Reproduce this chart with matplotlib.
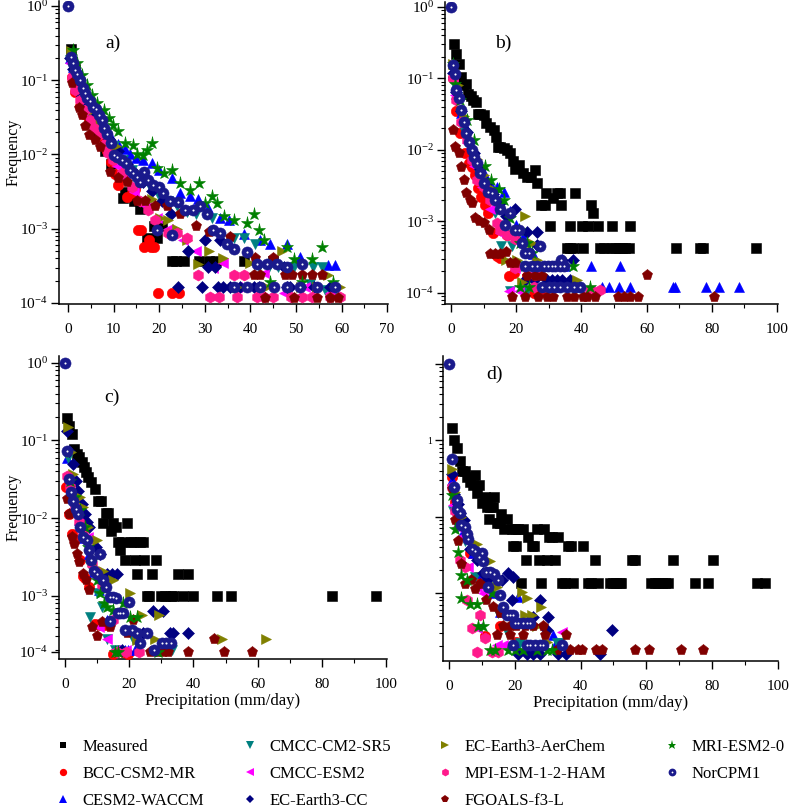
import matplotlib
matplotlib.use("Agg")
import matplotlib.pyplot as plt
from matplotlib.lines import Line2D
from matplotlib.ticker import (FixedLocator, FixedFormatter, LogLocator,
                               MultipleLocator, NullFormatter)

plt.rcParams['font.family'] = ['Liberation Serif', 'DejaVu Serif']
plt.rcParams['mathtext.fontset'] = 'custom'
plt.rcParams['mathtext.rm'] = 'Liberation Serif'
plt.rcParams['mathtext.it'] = 'Liberation Serif:italic'

# ---------------- data: precipitation (mm/day) vs frequency ----------------
# panel a
a_meas_x = [0.7, 1.5, 2.5, 3.5, 5, 6.5, 8, 9.5, 11.4, 12, 12.5, 13.2, 14.5, 15.8, 17.3, 18.9, 19.5, 20.5, 22.8, 23.6, 25.5, 28.8, 30.9, 32.4, 38.7, 45]
a_meas_f = [0.26, 0.14, 0.08, 0.05, 0.03, 0.018, 0.011, 0.0075, 0.005, 0.0026, 0.003, 0.0031, 0.0024, 0.00186, 0.00074, 0.0011, 0.00074, 0.0011, 0.00037, 0.00037, 0.00037, 0.00037, 0.00037, 0.00037, 0.00037, 0.00037]
a_bcc_x = [0.8, 1.5, 2.5, 3.5, 4.5, 5.5, 6.3, 7.5, 8.5, 9.5, 10.3, 11, 11.8, 12.9, 14, 14.7, 15.4, 16.1, 16.7, 17.8, 18.1, 18.9, 19.7, 22.7, 24.4]
a_bcc_f = [0.112, 0.07, 0.045, 0.035, 0.03, 0.028, 0.025, 0.017, 0.011, 0.008, 0.0055, 0.0039, 0.005, 0.0027, 0.003, 0.0034, 0.00096, 0.00096, 0.00057, 0.0007, 0.00057, 0.00057, 0.000138, 0.000138, 0.000138]
a_cesm_x = [0.5, 1, 1.5, 2, 3, 4, 5, 6, 7, 8, 9.5, 11, 12.5, 13.6, 15, 16.5, 18.4, 20, 22.8, 24.6, 26.8, 28.5, 30.8, 33.4, 35.2, 38.5, 42.1, 44.3, 48, 50.9, 57.1, 58.6]
a_cesm_f = [0.2, 0.15, 0.12, 0.095, 0.068, 0.052, 0.042, 0.034, 0.028, 0.022, 0.017, 0.014, 0.012, 0.0103, 0.009, 0.0085, 0.0076, 0.0062, 0.0048, 0.003, 0.0028, 0.0025, 0.0019, 0.0014, 0.0013, 0.00086, 0.0007, 0.00063, 0.00063, 0.00042, 0.00032, 0.00032]
a_sr5_x = [0.5, 1, 2, 3, 4.5, 6, 8, 10, 12, 14, 16, 18, 20, 22, 24, 26, 28, 31.5, 36.3, 38.5, 41, 41.8, 44, 46, 49.5, 53.1, 53.8, 55.7, 56.4, 58.5]
a_sr5_f = [0.19, 0.14, 0.09, 0.062, 0.042, 0.03, 0.02, 0.013, 0.0085, 0.0062, 0.0048, 0.0036, 0.0028, 0.0024, 0.002, 0.0017, 0.0016, 0.0014, 0.00074, 0.00074, 0.00063, 0.00031, 0.00031, 0.00031, 0.00031, 0.00018, 0.00031, 0.00031, 0.00015, 0.00015]
a_esm2_x = [0.5, 1, 2, 3, 4, 5.5, 7, 8.5, 10.7, 12.5, 14.5, 17, 19.5, 22, 25.3, 28, 31.9, 34, 37, 40.7, 42.9, 47.3, 52, 57.5]
a_esm2_f = [0.17, 0.12, 0.075, 0.05, 0.037, 0.026, 0.019, 0.0157, 0.0069, 0.0048, 0.0031, 0.002, 0.0014, 0.001, 0.0007, 0.0005, 0.0003, 0.00035, 0.000166, 0.00035, 0.00025, 0.000135, 0.000166, 0.000135]
a_cc_x = [0.5, 1, 2, 3, 4, 5.5, 7, 9, 11, 13, 15, 16.5, 18.4, 20.5, 22.5, 24.2, 26.4, 29.3, 30, 30.8, 32.3, 33, 33.4, 34, 35.5, 37.8, 40.7, 42, 47.3, 48, 48.7, 50.9, 54, 57.5]
a_cc_f = [0.2, 0.14, 0.09, 0.062, 0.046, 0.032, 0.024, 0.016, 0.011, 0.0075, 0.0055, 0.0042, 0.0032, 0.0024, 0.0016, 0.000166, 0.0005, 0.000166, 0.0007, 0.00031, 0.00031, 0.000166, 0.0007, 0.000166, 0.000166, 0.000166, 0.000166, 0.000166, 0.00031, 0.000166, 0.000166, 0.000166, 0.000166, 0.000166]
a_aer_x = [0.7, 1.5, 2.5, 4, 5.5, 7, 8.5, 10.5, 12.5, 14.5, 16.5, 18.5, 20.2, 22, 24, 26, 28.6, 31, 34, 37, 40, 43.6, 47, 51, 54.6, 57, 59.7]
a_aer_f = [0.25, 0.15, 0.1, 0.06, 0.04, 0.028, 0.02, 0.013, 0.0085, 0.006, 0.0042, 0.0025, 0.0014, 0.0013, 0.001, 0.0007, 0.00034, 0.0005, 0.0004, 0.000166, 0.00035, 0.000166, 0.0005, 0.000166, 0.000166, 0.00024, 0.000166]
a_mpi_x = [0.8, 1.5, 2.6, 3.7, 4.8, 5.6, 7, 8.1, 8.8, 9.9, 11.8, 14, 15.8, 17.6, 19.1, 22, 23.8, 26, 28.6, 31.2, 33.1, 36.3, 37, 38.5, 41.4, 42.9, 45, 49, 51.3, 53.5, 57.5, 59.7]
a_mpi_f = [0.106, 0.074, 0.054, 0.04, 0.029, 0.0225, 0.019, 0.014, 0.0104, 0.0084, 0.0056, 0.0037, 0.0024, 0.0018, 0.0013, 0.00088, 0.00088, 0.00074, 0.00024, 0.000122, 0.000122, 0.00024, 0.000122, 0.00024, 0.000122, 0.000122, 0.000122, 0.000122, 0.000122, 0.000122, 0.000122, 0.000122]
a_fg_x = [0.8, 2.3, 3, 3.7, 4.5, 5.9, 7, 9.2, 11, 12.9, 15.1, 16.9, 19.1, 21.7, 24.6, 28, 31, 35.6, 40.7, 41, 42.1, 43.2, 45, 47.6, 49.1, 49.5, 51.3, 53.5, 54.6, 55.7, 57.5, 59.3]
a_fg_f = [0.091, 0.042, 0.034, 0.024, 0.0183, 0.0157, 0.0127, 0.0059, 0.0048, 0.0043, 0.0024, 0.0024, 0.002, 0.002, 0.0016, 0.0011, 0.0009, 0.00078, 0.00024, 0.0004, 0.00024, 0.000116, 0.0004, 0.00024, 0.00024, 0.000116, 0.00024, 0.00024, 0.000116, 0.00024, 0.000116, 0.000116]
a_mri_x = [1.0, 1.9, 3, 4.1, 5.2, 6.3, 7.8, 8.9, 9.9, 11, 12.5, 14.2, 15.1, 16.5, 17.3, 18.4, 19.5, 21, 22.8, 24.6, 26.8, 28.8, 30.1, 31.5, 32.6, 34.1, 36.3, 39.2, 40.7, 41.8, 42.9, 44.3, 48, 49.5, 51.3, 53.5, 55.7, 58.2]
a_mri_f = [0.255, 0.17, 0.117, 0.086, 0.063, 0.049, 0.04, 0.031, 0.025, 0.021, 0.0141, 0.0135, 0.0103, 0.0098, 0.0115, 0.0141, 0.0065, 0.0056, 0.0062, 0.0041, 0.0033, 0.0041, 0.0022, 0.0028, 0.0022, 0.0015, 0.0013, 0.0012, 0.0016, 0.00096, 0.0007, 0.00019, 0.00057, 0.00039, 0.00019, 0.00039, 0.00057, 0.00019]
a_nor_x = [0, 0.66, 1.0, 1.5, 2.0, 2.6, 3.2, 3.7, 4.2, 4.8, 5.4, 6.1, 6.7, 7.4, 7.9, 8.5, 9.4, 10.1, 10.8, 11.8, 12.7, 13.5, 14.3, 15.1, 15.8, 16.7, 17.6, 18.7, 19.5, 20, 20.9, 22.4, 22.8, 24.2, 25.7, 27.5, 29, 30.4, 31.9, 33.4, 34.8, 36.3, 36.3, 39.2, 39.2, 41.4, 42.1, 43.6, 45.1, 45.8, 48, 48, 50.9, 51.3, 54.6, 58.6]
a_nor_f = [1.0, 0.208, 0.169, 0.137, 0.121, 0.1, 0.078, 0.067, 0.057, 0.052, 0.044, 0.041, 0.034, 0.029, 0.0225, 0.019, 0.0141, 0.0098, 0.0093, 0.0084, 0.0078, 0.0062, 0.0056, 0.005, 0.0043, 0.0059, 0.0045, 0.0039, 0.00096, 0.0036, 0.003, 0.0024, 0.00083, 0.0023, 0.0018, 0.0018, 0.002, 0.0016, 0.00096, 0.00088, 0.00063, 0.00054, 0.000166, 0.00049, 0.000166, 0.00034, 0.000166, 0.00033, 0.000166, 0.00034, 0.00031, 0.000166, 0.000166, 0.00033, 0.000166, 0.000166]

# panel b
b_meas_x = [0.8, 1.5, 2.4, 3.1, 3.7, 4.7, 5.2, 6.1, 6.9, 7.7, 8.2, 9, 10, 10.8, 12.1, 13.1, 13.8, 14.3, 15.1, 16.2, 17.2, 18.2, 19, 19.7, 20.8, 22.1, 23.3, 24.6, 25.7, 26.4, 27.7, 28.7, 29.2, 30.5, 31.3, 32.5, 33.3, 33.8, 35.6, 36.4, 37.4, 38.1, 36.6, 40.2, 40.5, 42, 42.9, 43.6, 45, 45.8, 46.8, 49.1, 49.5, 50.4, 51.4, 52.5, 53.5, 54.5, 54.8, 69.1, 76.3, 77.3, 93.4]
b_meas_f = [0.308, 0.22, 0.16, 0.105, 0.08, 0.085, 0.06, 0.056, 0.05, 0.047, 0.032, 0.032, 0.031, 0.0236, 0.021, 0.019, 0.0154, 0.011, 0.011, 0.0105, 0.0101, 0.009, 0.0069, 0.0055, 0.0062, 0.0047, 0.0042, 0.0042, 0.0052, 0.0034, 0.0017, 0.0017, 0.0025, 0.00085, 0.0021, 0.0025, 0.0025, 0.0017, 0.000425, 0.000425, 0.000425, 0.0025, 0.00085, 0.00085, 0.000425, 0.00085, 0.0017, 0.0013, 0.00085, 0.000425, 0.000425, 0.000425, 0.00085, 0.000425, 0.000425, 0.000425, 0.000425, 0.000425, 0.00085, 0.000425, 0.000425, 0.000425, 0.000425]
b_bcc_x = [0.5, 1.5, 2.9, 4.4, 5.4, 6.4, 7.5, 8.2, 9.3, 10.5, 11.2, 12.9, 14.1, 15.1, 17.2, 17.7, 19.2, 23.3, 25.4, 27.4]
b_bcc_f = [0.1, 0.035, 0.0171, 0.009, 0.0065, 0.00585, 0.0045, 0.0029, 0.0022, 0.0017, 0.0013, 0.00069, 0.00033, 0.00031, 0.00065, 0.00017, 0.00019, 0.00017, 0.0001, 0.0001]
b_cesm_x = [0.5, 1.5, 3, 4.5, 6, 8, 10, 12, 14, 16.2, 18, 20, 22, 25, 28, 31.3, 35, 39.2, 43, 46.3, 48.4, 51.4, 51.9, 54.8, 68.1, 68.8, 78.3, 82.1, 88.2]
b_cesm_f = [0.12, 0.06, 0.033, 0.02, 0.012, 0.0075, 0.0048, 0.0035, 0.003, 0.0026, 0.0014, 0.0009, 0.0006, 0.00035, 0.00024, 0.00012, 0.00024, 0.00012, 0.00024, 0.00012, 0.00012, 0.00012, 0.00024, 0.00012, 0.00012, 0.00012, 0.00012, 0.00012, 0.00012]
b_sr5_x = [0.5, 1.8, 3.4, 5.4, 8, 11, 13.6, 15.3, 18.7, 21.5, 18.2, 23.3, 37.6]
b_sr5_f = [0.09, 0.055, 0.021, 0.0124, 0.0052, 0.0028, 0.0013, 0.00045, 0.00045, 0.00024, 0.000105, 0.000105, 0.000105]
b_esm2_x = [0.5, 1.3, 3.4, 4.9, 7, 9.5, 12.1, 15.1, 17.7, 19.7, 20.8, 42.7]
b_esm2_f = [0.1, 0.058, 0.026, 0.0124, 0.0059, 0.003, 0.0015, 0.00069, 0.000105, 0.00022, 0.000105, 0.000105]
b_cc_x = [0.5, 1.5, 3, 5, 7, 9, 11, 13, 15.1, 17, 19.7, 23.3, 26.4, 26.4, 34, 37.4, 22.8, 25.4, 29.4, 31, 32.5, 34, 36.6]
b_cc_f = [0.12, 0.065, 0.035, 0.018, 0.009, 0.0055, 0.0035, 0.0024, 0.0018, 0.0012, 0.0015, 0.00072, 0.00072, 0.00047, 0.00029, 0.00029, 0.00015, 0.00015, 0.00015, 0.00015, 0.00015, 0.00015, 0.00015]
b_aer_x = [0.7, 2, 4, 6, 8, 10, 13, 17, 20.2, 22.8, 24.8, 26.4, 21.8, 38.7]
b_aer_f = [0.16, 0.08, 0.03, 0.014, 0.0075, 0.0045, 0.0028, 0.00029, 0.00029, 0.0012, 0.0005, 0.00029, 0.00014, 0.00015]
b_mpi_x = [0.5, 1.5, 3, 4.9, 6.4, 8, 10, 12.1, 14.1, 15.1, 17.2, 19.7, 19.7, 25.9, 25.4, 42.7, 45.8]
b_mpi_f = [0.1, 0.05, 0.025, 0.0138, 0.0073, 0.0038, 0.003, 0.002, 0.00095, 0.00077, 0.00065, 0.00056, 0.00022, 0.00018, 0.00012, 0.00011, 0.00011]
b_fg_x = [0.6, 1.3, 2.4, 3.1, 3.9, 4.7, 5.7, 6.4, 7.5, 8.5, 10, 11.6, 12.1, 13.6, 15.1, 17, 18.2, 19.7, 23.3, 25.9, 27.9, 18.7, 22.8, 26.6, 29.4, 31.3, 35.6, 37.6, 40.5, 41.7, 44.3, 51.1, 53, 55, 57.3, 60.1, 80.6]
b_fg_f = [0.019, 0.011, 0.009, 0.0058, 0.0038, 0.0025, 0.002, 0.0018, 0.0011, 0.001, 0.00094, 0.00077, 0.00035, 0.00035, 0.00035, 0.00037, 0.00026, 0.00026, 0.00017, 0.00017, 0.00017, 0.000088, 0.000088, 0.000088, 0.000088, 0.000088, 0.000088, 0.000088, 0.000088, 0.000088, 0.000088, 0.000088, 0.000088, 0.000088, 0.000088, 0.00018, 0.000088]
b_mri_x = [0.6, 1.3, 2.9, 4.9, 7, 10.5, 12.3, 14.6, 16.2, 18.2, 20.8, 21.3, 23.3, 24.8, 37.4, 21.3, 23.8, 42.7]
b_mri_f = [0.16, 0.085, 0.05, 0.026, 0.0138, 0.0059, 0.0038, 0.0028, 0.002, 0.0011, 0.00077, 0.0005, 0.0005, 0.00036, 0.00024, 0.00012, 0.00012, 0.00012]
b_nor_x = [0, 0.6, 1.1, 1.6, 2.4, 3.0, 3.9, 4.7, 5.4, 6.4, 7.2, 8, 9, 10.2, 11.3, 12.6, 13.6, 15.1, 16.7, 18.2, 19.7, 21, 21.9, 22.8, 23.8, 22.6, 24.8, 26.4, 28.4, 29.8, 31, 32, 33.3, 34.6, 27.2, 27.9, 30, 31.7, 33.3, 35.6, 37.6, 39.7, 33.7]
b_nor_f = [1.0, 0.154, 0.117, 0.069, 0.053, 0.036, 0.025, 0.017, 0.013, 0.01, 0.0081, 0.0065, 0.0047, 0.0034, 0.0026, 0.0025, 0.002, 0.0015, 0.0009, 0.0013, 0.00077, 0.00077, 0.0005, 0.00036, 0.00036, 0.00024, 0.00024, 0.00024, 0.00024, 0.00024, 0.00024, 0.00024, 0.00024, 0.00024, 0.00045, 0.00012, 0.00012, 0.00012, 0.00012, 0.00012, 0.00012, 0.00012, 0.00029]

# panel c
c_meas_x = [0.7, 1.2, 2.1, 2.8, 3.6, 4.5, 5.2, 5.9, 6.5, 7.3, 8, 9.3, 10.4, 11.2, 11.7, 12.8, 13.5, 14.2, 15.1, 15.9, 16.6, 17.1, 17.9, 18.7, 19.4, 20.5, 21.3, 21.8, 22.3, 23.4, 24.2, 24.6, 25.4, 26.3, 27, 28.3, 29.9, 31, 33, 33.7, 35.3, 36.7, 38.4, 39.8, 47.2, 51.6, 83.1, 96.8]
c_meas_f = [0.197, 0.154, 0.121, 0.077, 0.067, 0.0605, 0.052, 0.045, 0.039, 0.034, 0.029, 0.0238, 0.0165, 0.0165, 0.00863, 0.0116, 0.0116, 0.0068, 0.00863, 0.0077, 0.00488, 0.00385, 0.00488, 0.00292, 0.00863, 0.00488, 0.00488, 0.00292, 0.00193, 0.00488, 0.00488, 0.00292, 0.00099, 0.00099, 0.00193, 0.00292, 0.00099, 0.00099, 0.00099, 0.00099, 0.00193, 0.00099, 0.00193, 0.00099, 0.00099, 0.00099, 0.00099, 0.00099]
c_bcc_x = [0.3, 1.2, 2.1, 3.1, 4.7, 5.5, 6.2, 7.6, 9.3, 10.9, 12.5, 15.1, 18.2, 19.7]
c_bcc_f = [0.025, 0.0114, 0.0063, 0.0052, 0.0029, 0.0018, 0.0017, 0.0013, 0.00044, 0.00042, 0.00042, 0.00018, 0.00019, 0.00018]
c_cesm_x = [0.5, 1.5, 3, 4.5, 6, 7.5, 9, 10.5, 13, 18.7, 19.7, 21.8, 27.5]
c_cesm_f = [0.06, 0.03, 0.017, 0.0095, 0.0055, 0.0035, 0.002, 0.0012, 0.00049, 0.0002, 0.0002, 0.0002, 0.0002]
c_sr5_x = [1, 2.1, 3.6, 5.7, 7.8, 9.9, 11.4, 7.8, 13, 15.6, 21.3, 33.2]
c_sr5_f = [0.06, 0.025, 0.014, 0.0077, 0.0024, 0.0011, 0.00072, 0.00054, 0.00028, 0.0002, 0.00028, 0.0002]
c_esm2_x = [1.2, 3.1, 4.7, 7.3, 9.3, 10.7, 13, 15.6, 19]
c_esm2_f = [0.03, 0.0186, 0.0103, 0.0057, 0.00193, 0.0004, 0.00028, 0.0002, 0.0002]
c_cc_x = [0.5, 1.3, 2.6, 3.4, 4.2, 5.2, 6.2, 7, 7.6, 9.7, 10.9, 13, 14.5, 16.1, 17.7, 24.4, 27.5, 30.6, 32.7, 33.7, 38.4]
c_cc_f = [0.133, 0.074, 0.05, 0.0305, 0.0225, 0.0152, 0.0114, 0.0089, 0.0077, 0.0042, 0.0035, 0.00193, 0.00193, 0.00193, 0.0002, 0.00033, 0.00064, 0.00064, 0.00033, 0.00033, 0.00033]
c_aer_x = [1, 1.8, 2.4, 4.7, 5.7, 7.3, 9.9, 11.9, 15.1, 20.2, 23.9, 29.4, 22.3, 28, 49, 62.5]
c_aer_f = [0.15, 0.07, 0.037, 0.0186, 0.0139, 0.0077, 0.0052, 0.0021, 0.0016, 0.0011, 0.00057, 0.00057, 0.00027, 0.00028, 0.000275, 0.000275]
c_mpi_x = [0.5, 1.6, 3.1, 4.5, 5.7, 7, 8.3, 9.3, 11.4, 15.1, 16.1, 19, 23.2]
c_mpi_f = [0.035, 0.025, 0.014, 0.0089, 0.0063, 0.0052, 0.0026, 0.0021, 0.0014, 0.00049, 0.00019, 0.00019, 0.00019]
c_fg_x = [0.5, 1.3, 2.1, 2.8, 3.6, 4.5, 5.7, 6.5, 7.6, 8.3, 9.9, 11.4, 14, 19.2, 21.1, 26.5, 28.6, 30.6, 32.2, 38.2, 46.4, 49.5, 58.4]
c_fg_f = [0.0176, 0.0114, 0.0057, 0.0047, 0.0035, 0.0027, 0.00193, 0.0016, 0.0012, 0.0004, 0.0003, 0.00046, 0.0004, 0.00033, 0.00049, 0.00019, 0.00019, 0.00019, 0.00019, 0.00019, 0.00028, 0.00019, 0.00019]
c_mri_x = [1.6, 3.1, 4.7, 6.2, 7.3, 8.3, 9.9, 10.9, 12.1, 13.2, 15.1, 15.6, 16.6, 18.2, 20.2, 22.3, 29.1]
c_mri_f = [0.03, 0.0186, 0.0126, 0.0077, 0.0042, 0.0029, 0.0016, 0.0011, 0.0008, 0.00072, 0.00065, 0.00019, 0.00019, 0.0008, 0.00054, 0.00054, 0.00019]
c_nor_x = [0, 0.5, 1.2, 1.9, 2.6, 3.4, 4.2, 4.7, 5.5, 6.7, 7.6, 8, 9.1, 10.1, 10.9, 11.7, 12.8, 14, 15.1, 15.9, 14, 16.6, 17.1, 18, 20, 18.7, 20.8, 22.3, 23.4, 30.1, 31.5, 32.9, 27.7, 25.4]
c_nor_f = [1.0, 0.074, 0.032, 0.0215, 0.0168, 0.0132, 0.0114, 0.0077, 0.0057, 0.0052, 0.00385, 0.0029, 0.0021, 0.00193, 0.0035, 0.0016, 0.0013, 0.00097, 0.00097, 0.00093, 0.00048, 0.0006, 0.0006, 0.0006, 0.00083, 0.00036, 0.00036, 0.00033, 0.00025, 0.00025, 0.00025, 0.00025, 0.0002, 0.00033]

# panel d
d_meas_x = [0.8, 1.6, 2.5, 3.3, 4.1, 4.9, 5.6, 6.4, 7.4, 7.8, 8.6, 9.2, 9.9, 10.9, 11.6, 12.4, 12.2, 13.3, 13.7, 14.5, 15.5, 15.8, 16.7, 17.5, 19, 20, 21.1, 22.6, 19.5, 20.5, 23.4, 24.1, 25.1, 25.8, 26.6, 27.3, 28.8, 29.7, 30.3, 31.3, 32.2, 33.2, 21.9, 28.1, 34.2, 35.2, 36.2, 37, 37.6, 40.6, 42.3, 43.3, 44.5, 45.3, 48.9, 49.9, 50.9, 51.9, 52.4, 55.5, 56.5, 61.5, 62.5, 63.6, 64.6, 65.6, 66.6, 68.1, 74.7, 78.7, 80.3, 93.6, 96]
d_meas_f = [0.143, 0.1, 0.08, 0.0527, 0.039, 0.039, 0.0326, 0.028, 0.026, 0.035, 0.0205, 0.026, 0.015, 0.0179, 0.0135, 0.0135, 0.0093, 0.0135, 0.0179, 0.0082, 0.0082, 0.0108, 0.0068, 0.0093, 0.0068, 0.0068, 0.0068, 0.0068, 0.0041, 0.0041, 0.00272, 0.0054, 0.0041, 0.0041, 0.0068, 0.00272, 0.0068, 0.00272, 0.0054, 0.0054, 0.00272, 0.0054, 0.00135, 0.00135, 0.00135, 0.00135, 0.0041, 0.0041, 0.00135, 0.0041, 0.00135, 0.00135, 0.00272, 0.00135, 0.00135, 0.00135, 0.00135, 0.00135, 0.00135, 0.00272, 0.00272, 0.00135, 0.00135, 0.00135, 0.00135, 0.00135, 0.00135, 0.00272, 0.00135, 0.00135, 0.00272, 0.00135, 0.00135]
d_bcc_x = [0.8, 1.8, 3.8, 6.4, 8.4, 10.9, 15.5, 20.5]
d_bcc_f = [0.033, 0.0154, 0.0077, 0.0033, 0.0016, 0.00027, 0.00037, 0.00023]
d_cesm_x = [0.8, 2, 4, 7.4, 10, 13, 15.5, 20.5, 21.1, 31.7, 32.2]
d_cesm_f = [0.03, 0.014, 0.006, 0.0033, 0.0018, 0.001, 0.00056, 0.00021, 0.00089, 0.00028, 0.00021]
d_sr5_x = [1.3, 2.8, 4.9, 7.9, 11.9, 15, 17.5, 21.6, 32.7, 33.7]
d_sr5_f = [0.012, 0.0072, 0.0048, 0.0016, 0.0012, 0.00054, 0.00031, 0.00022, 0.00022, 0.00022]
d_esm2_x = [1.3, 2.3, 3.8, 5.9, 8.4, 10.4, 8.4, 14.5, 16.5, 18, 34.2]
d_esm2_f = [0.014, 0.0072, 0.0054, 0.0022, 0.0012, 0.001, 0.00035, 0.00021, 0.00021, 0.00021, 0.00031]
d_cc_x = [1, 1.6, 2.6, 3.3, 4.6, 6.4, 8.4, 10.4, 11.6, 16, 18, 19.5, 19, 27.8, 30.2, 25.6, 21.1, 23.6, 25.6, 27.6, 33.2, 35.7, 45.9, 49.4, 29.7]
d_cc_f = [0.036, 0.0198, 0.0146, 0.011, 0.009, 0.0038, 0.0027, 0.0018, 0.00146, 0.0015, 0.0018, 0.0016, 0.0008, 0.0008, 0.00049, 0.00049, 0.00016, 0.00016, 0.00016, 0.00016, 0.00016, 0.00016, 0.00016, 0.00033, 0.00033]
d_aer_x = [0.8, 1.8, 3.8, 8.4, 12.4, 14.5, 22.1, 23.6, 28.1, 23.1, 25.1, 26.6, 29.7]
d_aer_f = [0.042, 0.021, 0.0098, 0.0044, 0.0026, 0.0012, 0.00104, 0.00085, 0.00066, 0.00051, 0.00051, 0.00037, 0.00023]
d_mpi_x = [0.8, 1.8, 3.3, 4.9, 5.4, 6.9, 8.4, 9.4, 10.9, 13, 15]
d_mpi_f = [0.024, 0.012, 0.0027, 0.0022, 0.0008, 0.00035, 0.00017, 0.00051, 0.00026, 0.00017, 0.00017]
d_fg_x = [0.8, 1.8, 2.8, 3.8, 4.9, 6.6, 7.9, 9.4, 11.4, 13.5, 15.5, 16.5, 18.5, 20.5, 23.1, 25.6, 28.6, 14.5, 18.5, 22.6, 29.1, 35.5, 32.7, 36.7, 39.3, 40.3, 44.8, 46.4, 56.5, 60.8, 70.6, 77.2]
d_fg_f = [0.023, 0.0089, 0.0048, 0.0024, 0.0013, 0.0015, 0.00113, 0.0013, 0.0008, 0.00066, 0.00054, 0.00037, 0.00037, 0.00037, 0.00037, 0.00037, 0.00037, 0.00028, 0.00028, 0.00028, 0.00028, 0.00028, 0.00018, 0.00018, 0.00018, 0.00018, 0.00018, 0.00018, 0.00018, 0.00018, 0.00018, 0.00018]
d_mri_x = [0.8, 1.8, 2.8, 3.8, 3.8, 5.4, 6.4, 8.4, 8.9, 10.4, 13, 12.4, 14, 18, 20, 22.6, 26.6, 29.7, 31.2]
d_mri_f = [0.019, 0.0069, 0.0034, 0.0017, 0.00085, 0.0015, 0.00071, 0.00071, 0.00037, 0.00037, 0.00099, 0.00018, 0.00018, 0.00018, 0.00018, 0.00018, 0.00018, 0.00018, 0.00018]
d_nor_x = [0, 0.8, 1.6, 2.3, 2.5, 3.3, 3.8, 4.9, 5.4, 5.9, 6.9, 7.9, 9.2, 9.9, 10.4, 11.2, 12.4, 13.8, 15, 11.9, 15.5, 16.5, 17.5, 18.5, 19.5, 20, 21.1, 22.6, 23.6, 24.6, 19.5, 23.6, 24.6, 26.1, 27.6, 28.6, 34.5]
d_nor_f = [1.0, 0.0565, 0.0241, 0.0163, 0.0126, 0.011, 0.0077, 0.0073, 0.006, 0.0051, 0.0038, 0.0035, 0.003, 0.0033, 0.0026, 0.0019, 0.0019, 0.00179, 0.00146, 0.0012, 0.00093, 0.00066, 0.00051, 0.00051, 0.00051, 0.0004, 0.0004, 0.0004, 0.0004, 0.0004, 0.00021, 0.00021, 0.00021, 0.00021, 0.00021, 0.00021, 0.00021]

names = ['Measured', 'BCC-CSM2-MR', 'CESM2-WACCM', 'CMCC-CM2-SR5', 'CMCC-ESM2',
         'EC-Earth3-CC', 'EC-Earth3-AerChem', 'MPI-ESM-1-2-HAM', 'FGOALS-f3-L',
         'MRI-ESM2-0', 'NorCPM1']
markers = ['s', 'o', '^', 'v', '<', 'D', '>', 'h', 'p', '*', 'o']
colors = ['#000000', '#ff0000', '#0000ff', '#008080', '#ff00ff', '#000080',
          '#808000', '#ff1a8c', '#800000', '#008000', '#1a1a8c']
msizes = [7, 7.5, 7.5, 7.5, 7.5, 6.5, 7.5, 8, 8, 9.5, 8]

panels = {
    'a': [(a_meas_x, a_meas_f), (a_bcc_x, a_bcc_f), (a_cesm_x, a_cesm_f), (a_sr5_x, a_sr5_f),
          (a_esm2_x, a_esm2_f), (a_cc_x, a_cc_f), (a_aer_x, a_aer_f), (a_mpi_x, a_mpi_f),
          (a_fg_x, a_fg_f), (a_mri_x, a_mri_f), (a_nor_x, a_nor_f)],
    'b': [(b_meas_x, b_meas_f), (b_bcc_x, b_bcc_f), (b_cesm_x, b_cesm_f), (b_sr5_x, b_sr5_f),
          (b_esm2_x, b_esm2_f), (b_cc_x, b_cc_f), (b_aer_x, b_aer_f), (b_mpi_x, b_mpi_f),
          (b_fg_x, b_fg_f), (b_mri_x, b_mri_f), (b_nor_x, b_nor_f)],
    'c': [(c_meas_x, c_meas_f), (c_bcc_x, c_bcc_f), (c_cesm_x, c_cesm_f), (c_sr5_x, c_sr5_f),
          (c_esm2_x, c_esm2_f), (c_cc_x, c_cc_f), (c_aer_x, c_aer_f), (c_mpi_x, c_mpi_f),
          (c_fg_x, c_fg_f), (c_mri_x, c_mri_f), (c_nor_x, c_nor_f)],
    'd': [(d_meas_x, d_meas_f), (d_bcc_x, d_bcc_f), (d_cesm_x, d_cesm_f), (d_sr5_x, d_sr5_f),
          (d_esm2_x, d_esm2_f), (d_cc_x, d_cc_f), (d_aer_x, d_aer_f), (d_mpi_x, d_mpi_f),
          (d_fg_x, d_fg_f), (d_mri_x, d_mri_f), (d_nor_x, d_nor_f)],
}

fig = plt.figure(figsize=(7.89, 8.10), dpi=100)
W, H = 789.0, 810.0


def rect(l, r, t, b):
    return [l / W, 1 - b / H, (r - l) / W, (b - t) / H]


axes = {
    'a': fig.add_axes(rect(59, 388, 1, 304)),
    'b': fig.add_axes(rect(445, 778, 2, 304)),
    'c': fig.add_axes(rect(59, 387, 356, 659)),
    'd': fig.add_axes(rect(443, 778, 356, 661)),
}
xlims = {'a': (-2.0, 70.2), 'b': (-1.84, 100.3), 'c': (-1.87, 100.3), 'd': (-1.82, 100.0)}
ylims = {'a': (0.969e-4, 1.168), 'b': (7.0e-5, 1.175), 'c': (1.54e-4, 1.22), 'd': (1.29e-4, 1.26)}
letters = {'a': (0.164, 0.861), 'b': (0.174, 0.864), 'c': (0.162, 0.862), 'd': (0.155, 0.941)}

for key, ax in axes.items():
    for i, (xs, fs) in enumerate(panels[key]):
        ax.plot(xs, fs, ls='none', marker=markers[i], ms=msizes[i], color=colors[i],
                mec=colors[i], mew=0.4, zorder=2 + i)
        if names[i] == 'NorCPM1':
            ax.plot(xs, fs, ls='none', marker='o', ms=1.5, color='white',
                    mew=0, zorder=2 + i)
    ax.set_yscale('log')
    ax.set_xlim(*xlims[key])
    ax.set_ylim(*ylims[key])
    for s in ('top', 'right'):
        ax.spines[s].set_visible(False)
    for s in ('left', 'bottom'):
        ax.spines[s].set_linewidth(1.1)
    ax.tick_params(which='major', direction='out', length=6, width=1.0,
                   labelsize=11, pad=2)
    ax.tick_params(which='minor', direction='out', length=3, width=0.8)
    ax.tick_params(axis='x', which='major', pad=8)
    ax.yaxis.set_minor_locator(LogLocator(base=10, subs=[2, 3, 4, 5, 6, 7, 8, 9], numticks=20))
    ax.yaxis.set_minor_formatter(NullFormatter())
    if key == 'a':
        ax.xaxis.set_major_locator(MultipleLocator(10))
        ax.xaxis.set_minor_locator(MultipleLocator(5))
    else:
        ax.xaxis.set_major_locator(MultipleLocator(20))
        ax.xaxis.set_minor_locator(MultipleLocator(10))
    ax.text(letters[key][0], letters[key][1], key + ')', transform=ax.transAxes,
            fontsize=14, ha='center', va='center')

axes['c'].yaxis.set_major_locator(FixedLocator([1, 0.1, 0.01, 0.001, 1.9e-4]))
axes['c'].yaxis.set_major_formatter(FixedFormatter(
    ['$10^{0}$', '$10^{-1}$', '$10^{-2}$', '$10^{-3}$', '$10^{-4}$']))
axes['d'].yaxis.set_major_locator(FixedLocator([1, 0.1, 0.01, 0.001]))
axes['d'].yaxis.set_major_formatter(FixedFormatter(['', '1', '', '']))
axes['d'].tick_params(axis='y', which='major', labelsize=7)

for key in ('a', 'c'):
    axes[key].set_ylabel('Frequency', fontsize=11.5)
    axes[key].yaxis.set_label_coords(-0.115, 0.5)
for key in ('c', 'd'):
    axes[key].set_xlabel('Precipitation (mm/day)', fontsize=12, labelpad=1)

handles = []
for i, nm in enumerate(names):
    h = Line2D([], [], ls='none', marker=markers[i], color=colors[i],
               ms=msizes[i] * 0.7, mew=0)
    if nm == 'NorCPM1':
        h = (h, Line2D([], [], ls='none', marker='o', color='white', ms=1.3, mew=0))
    handles.append(h)

# one legend per column, placed at the reference column positions
col_marker_x = [55, 242, 437, 664]
for c, mx in enumerate(col_marker_x):
    fig.legend(handles[3 * c:3 * c + 3], names[3 * c:3 * c + 3], loc='upper left',
               bbox_to_anchor=((mx - 15) / W, 0.1067), frameon=False, fontsize=12,
               handlelength=1.0, handletextpad=0.65, labelspacing=0.66,
               borderpad=0.4)

fig.savefig('out.png', dpi=100)
